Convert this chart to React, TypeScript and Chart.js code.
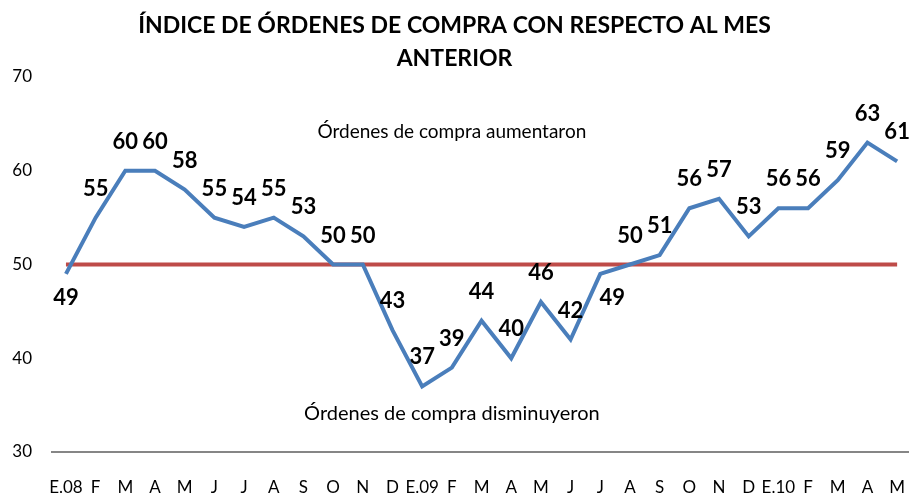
import React, { useEffect, useRef } from 'react';
import { Chart, registerables } from 'chart.js';

Chart.register(...registerables);

const titleLines = ['ÍNDICE DE ÓRDENES DE COMPRA CON RESPECTO AL MES', 'ANTERIOR'];
const categories = ['E.08', 'F', 'M', 'A', 'M', 'J', 'J', 'A', 'S', 'O', 'N', 'D', 'E.09', 'F', 'M', 'A', 'M', 'J', 'J', 'A', 'S', 'O', 'N', 'D', 'E.10', 'F', 'M', 'A', 'M'];
const indexValues = [49, 55, 60, 60, 58, 55, 54, 55, 53, 50, 50, 43, 37, 39, 44, 40, 46, 42, 49, 50, 51, 56, 57, 53, 56, 56, 59, 63, 61];
const thresholdValues = [50, 50, 50, 50, 50, 50, 50, 50, 50, 50, 50, 50, 50, 50, 50, 50, 50, 50, 50, 50, 50, 50, 50, 50, 50, 50, 50, 50, 50];
const yTicks = [30, 40, 50, 60, 70];
const upperNote = 'Órdenes de compra aumentaron';
const lowerNote = 'Órdenes de compra disminuyeron';

const FONT = 'Lato, "Open Sans", sans-serif';

const labelPlugin = {
  id: 'pointValueLabels',
  afterDatasetsDraw(chart: any) {
    const meta = chart.getDatasetMeta(1);
    const ctx = chart.ctx;
    ctx.save();
    ctx.font = `bold 22px ${FONT}`;
    ctx.fillStyle = '#000';
    ctx.textAlign = 'center';
    ctx.textBaseline = 'middle';
    meta.data.forEach((pt: any, i: number) => {
      const below = i === 0 || i === 18;
      const dx = i === 18 ? 12 : 0;
      const dy = below ? 24 : -29;
      ctx.fillText(String(indexValues[i]), pt.x + dx, pt.y + dy);
    });
    ctx.restore();
  },
};

const notePlugin = {
  id: 'zoneNotes',
  afterDraw(chart: any) {
    const ctx = chart.ctx;
    const xs = chart.scales.x;
    const ys = chart.scales.y;
    ctx.save();
    ctx.fillStyle = '#000';
    ctx.textAlign = 'center';
    ctx.textBaseline = 'middle';
    ctx.font = `19px ${FONT}`;
    ctx.fillText(upperNote, xs.getPixelForValue(13), ys.getPixelForValue(64.2));
    ctx.font = `20px ${FONT}`;
    ctx.fillText(lowerNote, xs.getPixelForValue(13), ys.getPixelForValue(34.1));
    ctx.restore();
  },
};

export default function App() {
  const canvasRef = useRef<HTMLCanvasElement | null>(null);

  useEffect(() => {
    document.body.style.margin = '0';
    const canvas = canvasRef.current;
    if (!canvas) return;
    const chart = new Chart(canvas, {
      type: 'line',
      data: {
        datasets: [
          {
            label: 'Referencia',
            data: thresholdValues.map((v, i) => ({ x: i, y: v })),
            borderColor: '#BE4B48',
            borderWidth: 4,
            pointRadius: 0,
            tension: 0,
            order: 2,
          },
          {
            label: 'Índice',
            data: indexValues.map((v, i) => ({ x: i, y: v })),
            borderColor: '#4A7EBB',
            borderWidth: 4,
            pointRadius: 0,
            tension: 0,
            order: 1,
          },
        ],
      },
      options: {
        animation: false,
        responsive: true,
        maintainAspectRatio: false,
        layout: { padding: { left: 0, right: 0, top: 0, bottom: 0 } },
        plugins: {
          legend: { display: false },
          tooltip: { enabled: false },
          title: {
            display: true,
            text: titleLines,
            color: '#000',
            font: { family: FONT, size: 23, weight: 'bold', lineHeight: 1.435 },
            padding: { top: 9.5, bottom: 1.5 },
          },
        },
        scales: {
          x: {
            type: 'linear',
            min: -0.47,
            max: 28.4,
            afterBuildTicks: (scale: any) => {
              scale.ticks = categories.map((_, i) => ({ value: i }));
            },
            afterFit: (scale: any) => {
              scale.height = 45;
              scale.paddingLeft = 0;
              scale.paddingRight = 0;
            },
            ticks: {
              autoSkip: false,
              maxRotation: 0,
              padding: 25,
              color: '#000',
              font: { family: FONT, size: 17 },
              callback: (_v: any, i: number) => categories[i],
            },
            grid: { display: false, drawTicks: false },
            border: { display: true, color: '#868686', width: 2 },
          },
          y: {
            min: 30,
            max: 70,
            afterBuildTicks: (scale: any) => {
              scale.ticks = yTicks.map((v) => ({ value: v }));
            },
            afterFit: (scale: any) => {
              scale.width = 52;
            },
            ticks: {
              padding: 20,
              color: '#000',
              font: { family: FONT, size: 17 },
            },
            grid: { display: false, drawTicks: false },
            border: { display: false },
          },
        },
      },
      plugins: [labelPlugin, notePlugin],
    });
    return () => chart.destroy();
  }, []);

  return (
    <div style={{ width: 909, height: 497, position: 'relative' }}>
      <canvas ref={canvasRef} />
    </div>
  );
}
